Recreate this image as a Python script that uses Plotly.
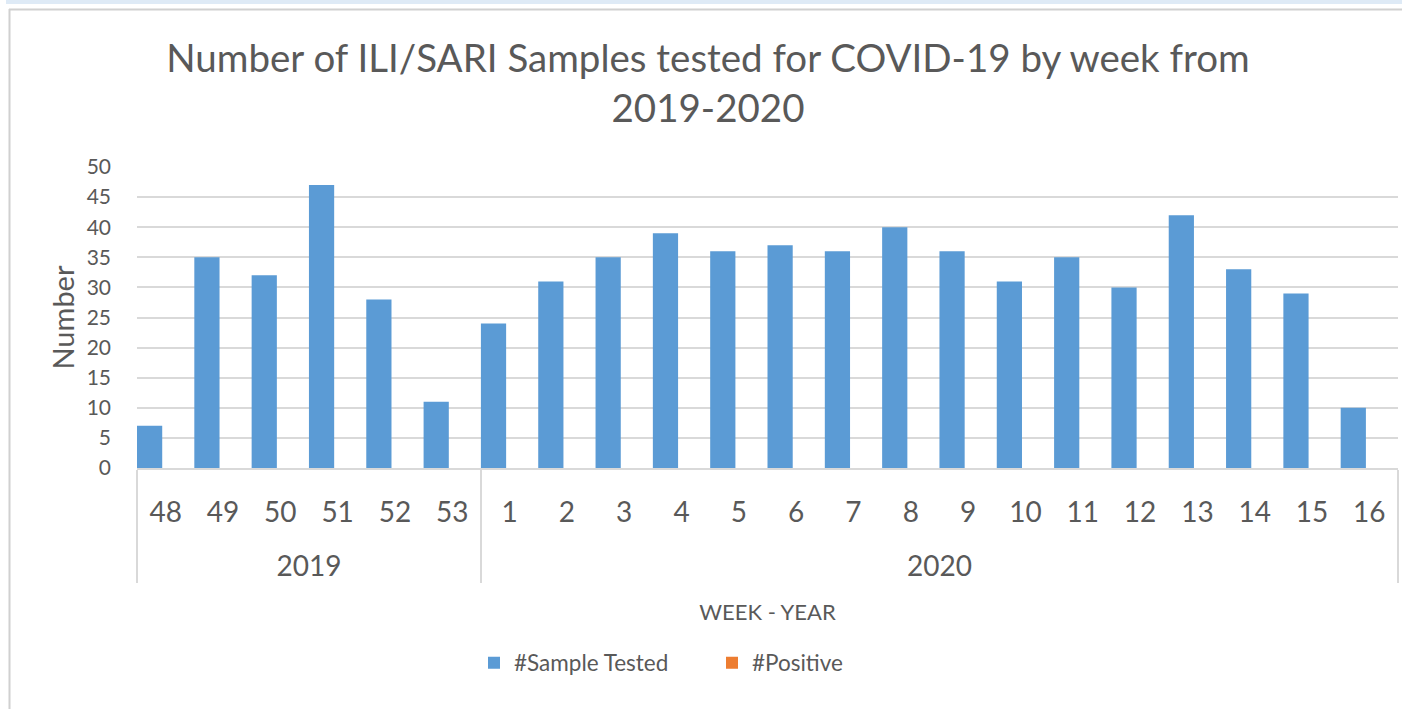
import plotly.graph_objects as go

years = ["<br>2019"] * 6 + ["<br>2020"] * 16
weeks = ["48", "49", "50", "51", "52", "53"] + [str(i) for i in range(1, 17)]
sample_tested = [7, 35, 32, 47, 28, 11, 24, 31, 35, 39, 36, 37, 36, 40, 36, 31, 35, 30, 42, 33, 29, 10]
positive = [0] * 22

W, H = 1402, 709
L, R, T, B = 137, 1398, 167, 468
pw, ph = R - L, B - T

def px(x):
    return (x - L) / pw

def py(y):
    return (B - y) / ph

TXT = "#595959"
FONT = "Lato"

fig = go.Figure()
fig.add_trace(go.Bar(x=[years, weeks], y=sample_tested, name="#Sample Tested",
                     width=0.44, offset=-0.5,
                     marker=dict(color="#5B9BD5", line=dict(width=0))))
fig.add_trace(go.Bar(x=[years, weeks], y=positive, name="#Positive",
                     width=0.44, offset=-0.06,
                     marker=dict(color="#ED7D31", line=dict(width=0))))

fig.update_layout(
    width=W, height=H,
    margin=dict(l=L, r=W - R, t=T, b=H - B, autoexpand=False),
    paper_bgcolor="white", plot_bgcolor="white",
    barmode="group",
    font=dict(family=FONT, color=TXT),
    title=dict(text="Number of ILI/SARI Samples tested for COVID-19 by week from<br>2019-2020",
               x=0.505, xanchor="center", xref="container",
               y=1 - 72 / H, yanchor="middle", yref="container",
               font=dict(size=38.5, family=FONT, color=TXT)),
    legend=dict(orientation="h", x=474 / W, xref="container", xanchor="left",
                y=1 - 663 / H, yref="container", yanchor="middle",
                font=dict(size=22.5, color=TXT), itemwidth=30,
                entrywidthmode="pixels", entrywidth=193),
    showlegend=True,
)

fig.update_yaxes(range=[0, 50], dtick=5, tick0=0, showgrid=True, gridcolor="#D9D9D9",
                 gridwidth=1.5, zeroline=False, showline=False, automargin=False,
                 tickfont=dict(size=21, color=TXT), ticks="", ticklabelstandoff=25,
                 title=dict(text="Number", font=dict(size=29, color=TXT), standoff=3))
fig.update_xaxes(type="multicategory", showline=True, linecolor="#D9D9D9", linewidth=1.5,
                 showgrid=False, tickfont=dict(size=28, color=TXT), automargin=False,
                 ticks="", ticklabelstandoff=19,
                 showdividers=True, dividercolor="#D9D9D9", dividerwidth=1.5,
                 title=dict(text="WEEK - YEAR", font=dict(size=22, color=TXT), standoff=24))

# page decorations
fig.add_shape(type="rect", xref="paper", yref="paper",
              x0=px(6), x1=px(1402), y0=py(0), y1=py(4),
              fillcolor="#DEEAF6", line=dict(width=0), layer="below")
fig.add_shape(type="line", xref="paper", yref="paper",
              x0=px(9), x1=px(1402), y0=py(9.5), y1=py(9.5),
              line=dict(color="#D0D0D0", width=2))
fig.add_shape(type="line", xref="paper", yref="paper",
              x0=px(9.5), x1=px(9.5), y0=py(9), y1=py(709),
              line=dict(color="#D0D0D0", width=2))

fig.write_html("out.html", config={"displayModeBar": False},
               post_script="document.body.style.margin='0';")
